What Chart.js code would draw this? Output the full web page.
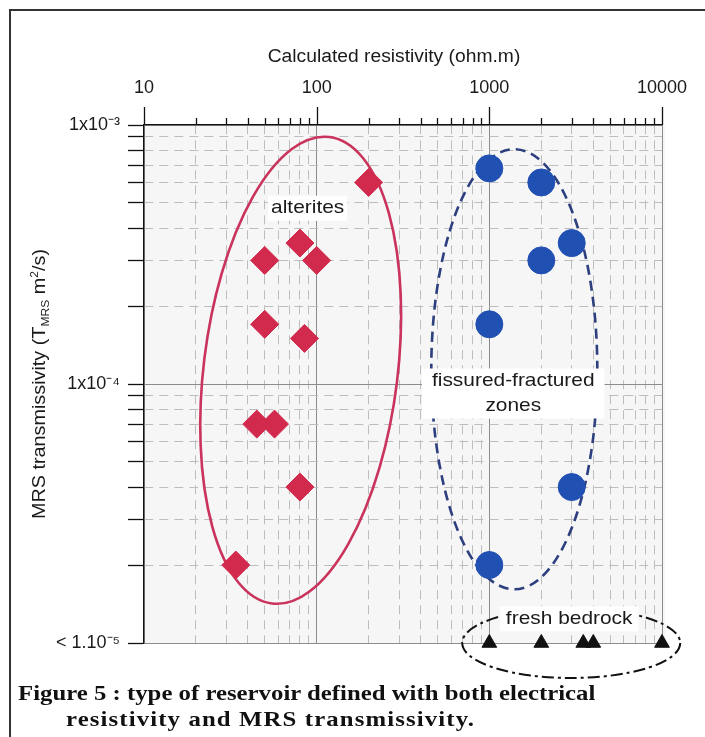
<!DOCTYPE html>
<html>
<head>
<meta charset="utf-8">
<script src="https://cdn.jsdelivr.net/npm/chart.js@4.4.1/dist/chart.umd.min.js"></script>
<style>
  html, body { margin: 0; padding: 0; background: #fff; }
  #wrap { position: relative; width: 705px; height: 737px; overflow: hidden; }
  #frame { position: absolute; left: 9px; top: 9px; width: 720px; height: 760px; border-left: 2px solid #333; border-top: 2px solid #333; }
  canvas { position: absolute; left: 0; top: 0; }
  .caption { position: absolute; font-family: "Liberation Serif", "Times New Roman", serif; font-weight: bold; font-size: 21px; color: #111; white-space: nowrap; transform: scaleX(1.18); transform-origin: left top; }
</style>
</head>
<body>
<div id="wrap">
  <div id="frame"></div>
  <canvas id="myChart" width="705" height="737"></canvas>
  <div class="caption" style="left:18px; top:681px;">Figure 5 : type of reservoir defined with both electrical</div>
  <div class="caption" style="left:66px; top:707px; letter-spacing:0.95px;">resistivity and MRS transmissivity.</div>
</div>
<script>
// calculated resistivity (ohm.m) vs MRS transmissivity (m2/s)
const alteritesResistivity = [200, 80, 50, 100, 50, 85, 45, 57, 80, 34];
const alteritesTransmissivity = [6e-4, 3.5e-4, 3e-4, 3e-4, 1.7e-4, 1.5e-4, 7e-5, 7e-5, 4e-5, 2e-5];

const fracturedResistivity = [1000, 2000, 3000, 2000, 1000, 3000, 1000];
const fracturedTransmissivity = [6.8e-4, 6e-4, 3.5e-4, 3e-4, 1.7e-4, 4e-5, 2e-5];

// fresh bedrock has no measurable transmissivity, plotted on "< 1.10-5"
const bedrockResistivity = [1000, 2000, 3500, 4000, 10000];
const bedrockTransmissivity = [1e-5, 1e-5, 1e-5, 1e-5, 1e-5];

const xMajorTicks = [10, 100, 1000, 10000];
const yMajorTicks = [1e-3, 1e-4, 1e-5];
const yTickLabels = ['1x10⁻³', '1x10⁻⁴', '< 1.10⁻⁵'];

const xTickValues = decadeTicks(1, 4);
const yTickValues = decadeTicks(-5, -3);

// hand drawn zones (centre in data units, radii in px)
const zones = [
    { cx: 80.8, cy: 1.13e-4, rx: 97, ry: 235, rot: 7, color: '#c9335c', width: 2.6, dash: [] },
    { cx: 1395, cy: 1.14e-4, rx: 83, ry: 220, rot: 0, color: '#2d3f7e', width: 2.6, dash: [10, 6] },
    { cx: 2980, cy: 1e-5, rx: 109, ry: 35, rot: 0, color: '#111111', width: 2, dash: [12, 4, 3, 4] }
];

const zoneLabels = [
    { lines: ['alterites'], x: 88.7, y: 4.77e-4, padX: 3 },
    { lines: ['fissured-fractured', 'zones'], x: 1376, y: 9.19e-5, padX: 10 },
    { lines: ['fresh bedrock'], x: 2900, y: 1.24e-5, padX: 6 }
];

function decadeTicks(fromExp, toExp) {
    const out = [];
    for (let e = fromExp; e < toExp; e++) {
        for (let s = 1; s < 10; s++) out.push(Number((s * Math.pow(10, e)).toPrecision(2)));
    }
    out.push(Math.pow(10, toExp));
    return out;
}

function isMajor(v) {
    const l = Math.log10(v);
    return Math.abs(l - Math.round(l)) < 1e-6;
}

function toPoints(xs, ys) {
    return xs.map((x, i) => ({ x: x, y: ys[i] }));
}

const TEXT = '#1a1a1a';
const SANS = '"Liberation Sans", Arial, Helvetica, sans-serif';

function stretched(ctx, text, x, y, sx) {
    ctx.save();
    ctx.translate(x, y);
    ctx.scale(sx, 1);
    ctx.fillText(text, 0, 0);
    ctx.restore();
}

const overlay = {
    id: 'overlay',
    beforeDraw(chart) {
        const { ctx, chartArea: a } = chart;
        ctx.save();
        ctx.fillStyle = '#f6f6f6';
        ctx.fillRect(a.left, a.top, a.right - a.left + 3, a.bottom - a.top);
        ctx.restore();
    },
    beforeDatasetsDraw(chart) {
        const { ctx } = chart;
        const xs = chart.scales.x, ys = chart.scales.y;

        zones.forEach(z => {
            ctx.save();
            ctx.beginPath();
            ctx.ellipse(xs.getPixelForValue(z.cx), ys.getPixelForValue(z.cy), z.rx, z.ry, z.rot * Math.PI / 180, 0, Math.PI * 2);
            ctx.strokeStyle = z.color;
            ctx.lineWidth = z.width;
            ctx.setLineDash(z.dash);
            ctx.stroke();
            ctx.restore();
        });

        const sx = 1.1, lineH = 25;
        zoneLabels.forEach(l => {
            const px = xs.getPixelForValue(l.x), py = ys.getPixelForValue(l.y);
            ctx.save();
            ctx.font = '19px ' + SANS;
            const w = Math.max(...l.lines.map(t => ctx.measureText(t).width)) * sx;
            const top = py - l.lines.length * lineH / 2;
            ctx.fillStyle = '#ffffff';
            ctx.fillRect(px - w / 2 - l.padX, top, w + 2 * l.padX, l.lines.length * lineH);
            ctx.fillStyle = TEXT;
            ctx.textAlign = 'center';
            ctx.textBaseline = 'middle';
            l.lines.forEach((t, i) => stretched(ctx, t, px, top + lineH * (i + 0.5), sx));
            ctx.restore();
        });
    },
    afterDraw(chart) {
        const { ctx, chartArea: a } = chart;
        const xs = chart.scales.x;

        // tick marks above the top axis
        ctx.save();
        ctx.strokeStyle = '#111';
        ctx.lineWidth = 1.3;
        xTickValues.forEach(v => {
            const px = Math.round(xs.getPixelForValue(v)) + 0.5;
            ctx.beginPath();
            ctx.moveTo(px, a.top);
            ctx.lineTo(px, a.top - (isMajor(v) ? 18 : 7));
            ctx.stroke();
        });
        ctx.restore();

        // x title
        ctx.save();
        ctx.fillStyle = TEXT;
        ctx.font = '18px ' + SANS;
        ctx.textAlign = 'center';
        ctx.textBaseline = 'middle';
        stretched(ctx, 'Calculated resistivity (ohm.m)', 394, 57, 1.07);
        ctx.restore();

        // y title with subscript / superscript
        const parts = [
            { t: 'MRS transmissivity (T', size: 18, dy: 0 },
            { t: 'MRS', size: 11, dy: 4 },
            { t: ' m', size: 18, dy: 0 },
            { t: '2', size: 11, dy: -7 },
            { t: '/s)', size: 18, dy: 0 }
        ];
        ctx.save();
        ctx.fillStyle = TEXT;
        ctx.translate(39, (a.top + a.bottom) / 2);
        ctx.rotate(-Math.PI / 2);
        ctx.scale(1.1, 1);
        let total = 0;
        parts.forEach(p => { ctx.font = p.size + 'px ' + SANS; p.w = ctx.measureText(p.t).width; total += p.w; });
        let cx = -total / 2;
        ctx.textBaseline = 'alphabetic';
        parts.forEach(p => {
            ctx.font = p.size + 'px ' + SANS;
            ctx.fillText(p.t, cx, 6 + p.dy);
            cx += p.w;
        });
        ctx.restore();
    }
};

const gridColor = c => (c.tick && isMajor(c.tick.value)) ? '#8c8c8c' : '#bdbdbd';
const gridDash = c => (c.tick && !isMajor(c.tick.value)) ? [9, 6] : [];

const ctx = document.getElementById('myChart').getContext('2d');

const myChart = new Chart(ctx, {
    type: 'scatter',
    data: {
        datasets: [{
            label: 'alterites',
            data: toPoints(alteritesResistivity, alteritesTransmissivity),
            pointStyle: 'rectRot',
            pointRadius: 14,
            backgroundColor: '#d22a4d',
            borderColor: '#d22a4d',
            borderWidth: 1,
            clip: false
        }, {
            label: 'fissured-fractured zones',
            data: toPoints(fracturedResistivity, fracturedTransmissivity),
            pointStyle: 'circle',
            pointRadius: 13.5,
            backgroundColor: '#2150b3',
            borderColor: '#2150b3',
            borderWidth: 1,
            clip: false
        }, {
            label: 'fresh bedrock',
            data: toPoints(bedrockResistivity, bedrockTransmissivity),
            pointStyle: 'triangle',
            pointRadius: 8.5,
            backgroundColor: '#111111',
            borderColor: '#111111',
            borderWidth: 1,
            clip: false
        }]
    },
    options: {
        responsive: false,
        animation: false,
        events: [],
        layout: { autoPadding: false, padding: { left: 0, top: 0, right: 43, bottom: 94 } },
        plugins: {
            legend: { display: false },
            tooltip: { enabled: false }
        },
        scales: {
            x: {
                type: 'logarithmic',
                position: 'top',
                min: 10,
                max: 10000,
                afterBuildTicks: s => { s.ticks = xTickValues.map(v => ({ value: v })); },
                afterFit: s => { s.height = 125; s.paddingLeft = 0; s.paddingRight = 0; },
                ticks: {
                    autoSkip: false,
                    maxRotation: 0,
                    padding: 26,
                    color: TEXT,
                    font: { family: SANS, size: 18 },
                    callback: v => xMajorTicks.includes(v) ? String(v) : ''
                },
                grid: { drawTicks: false, color: gridColor, lineWidth: 1 },
                border: { display: true, color: '#111', width: 1.3, dash: gridDash }
            },
            y: {
                type: 'logarithmic',
                min: 1e-5,
                max: 1e-3,
                afterBuildTicks: s => { s.ticks = yTickValues.map(v => ({ value: v })); },
                afterFit: s => { s.width = 144; },
                ticks: {
                    autoSkip: false,
                    padding: 8,
                    color: TEXT,
                    font: { family: SANS, size: 18 },
                    callback: v => {
                        const i = yMajorTicks.findIndex(m => Math.abs(m - v) / m < 1e-6);
                        return i >= 0 ? yTickLabels[i] : '';
                    }
                },
                grid: { drawTicks: true, tickLength: 16, tickColor: '#111', tickWidth: 1.3, tickBorderDash: [], color: gridColor, lineWidth: 1 },
                border: { display: true, color: '#111', width: 1.3, dash: gridDash }
            }
        }
    },
    plugins: [overlay]
});
</script>
</body>
</html>
